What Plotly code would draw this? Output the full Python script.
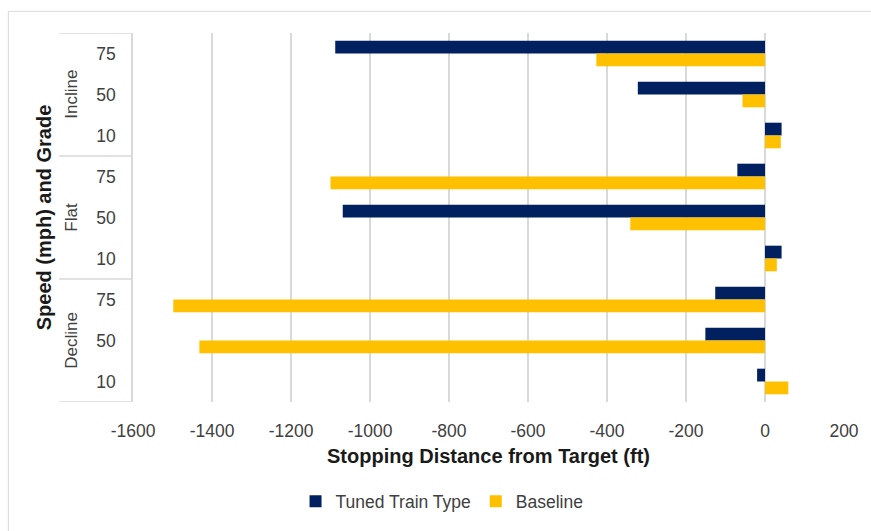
import plotly.graph_objects as go

grades = ["Incline", "Flat", "Decline"]
speeds = ["75", "50", "10"]
tuned = [-1088, -322, 42, -70, -1069, 42, -126, -151, -20]
baseline = [-427, -57, 40, -1100, -341, 30, -1498, -1432, 59]
x_ticks = list(range(-1600, 201, 200))
x_tick_text = [str(v) for v in x_ticks]

categories = [f"{g} {s}" for g in grades for s in speeds]
tick_text = [s for g in grades for s in speeds]

NAVY = "#002060"
GOLD = "#FFC000"
GRID = "#D9D9D9"
TXT = "#404040"
FONT = "Liberation Sans, Arial, sans-serif"

W, H = 871, 531
L, R, T, B = 133, 25, 33, 123
pw = W - L - R
ph = H - T - B

def px_x(p):
    return (p - L) / pw

def px_y(p):
    return (H - B - p) / ph

fig = go.Figure()
fig.add_trace(go.Bar(y=categories, x=tuned, orientation="h", name="Tuned Train Type",
                     marker=dict(color=NAVY, line=dict(width=0))))
fig.add_trace(go.Bar(y=categories, x=baseline, orientation="h", name="Baseline",
                     marker=dict(color=GOLD, line=dict(width=0))))

shapes = []
# outer chart frame
shapes.append(dict(type="line", xref="paper", yref="paper", x0=px_x(8), x1=px_x(W + 20),
                   y0=px_y(11), y1=px_y(11), line=dict(color=GRID, width=1)))
shapes.append(dict(type="line", xref="paper", yref="paper", x0=px_x(8), x1=px_x(8),
                   y0=px_y(11), y1=px_y(H + 20), line=dict(color=GRID, width=1)))
# group dividers of the multi-level category axis
for b in [-0.5, 2.5, 5.5, 8.5]:
    shapes.append(dict(type="line", xref="paper", yref="y", x0=px_x(59), x1=0,
                       y0=b, y1=b, line=dict(color=GRID, width=1.5)))

annotations = []
for i, g in enumerate(grades):
    annotations.append(dict(text=g, xref="paper", yref="y", x=px_x(71), y=i * 3 + 1,
                            showarrow=False, textangle=-90, xanchor="center", yanchor="middle",
                            font=dict(family=FONT, size=17, color=TXT)))

fig.update_layout(
    width=W, height=H, autosize=False,
    margin=dict(l=L, r=R, t=T, b=B),
    paper_bgcolor="white", plot_bgcolor="white",
    barmode="group", bargap=0.375, bargroupgap=0,
    font=dict(family=FONT, size=17.5, color=TXT),
    shapes=shapes, annotations=annotations,
    legend=dict(orientation="h", x=px_x(296), xanchor="left", y=px_y(509), yanchor="middle",
                font=dict(family=FONT, size=17.5, color=TXT), itemwidth=30,
                bgcolor="rgba(0,0,0,0)"),
    xaxis=dict(range=[-1600, 200], tickvals=x_ticks, ticktext=x_tick_text,
               showgrid=True, gridcolor=GRID, gridwidth=1.5,
               zeroline=False, showline=False, ticks="", ticklabelstandoff=16,
               tickfont=dict(family=FONT, size=17.5, color=TXT),
               title=dict(text="<b>Stopping Distance from Target (ft)</b>", standoff=9,
                          font=dict(family=FONT, size=20, color="#1a1a1a"))),
    yaxis=dict(type="category", categoryorder="array", categoryarray=categories,
               range=[8.5, -0.5], tickvals=categories, ticktext=tick_text,
               showgrid=False, zeroline=False, showline=True, linecolor=GRID, linewidth=1.5,
               ticks="", ticklabelstandoff=12,
               tickfont=dict(family=FONT, size=17.5, color=TXT),
               title=dict(text="<b>Speed (mph) and Grade</b>", standoff=39,
                          font=dict(family=FONT, size=20, color="#1a1a1a"))),
)

fig.write_html("out.html")
